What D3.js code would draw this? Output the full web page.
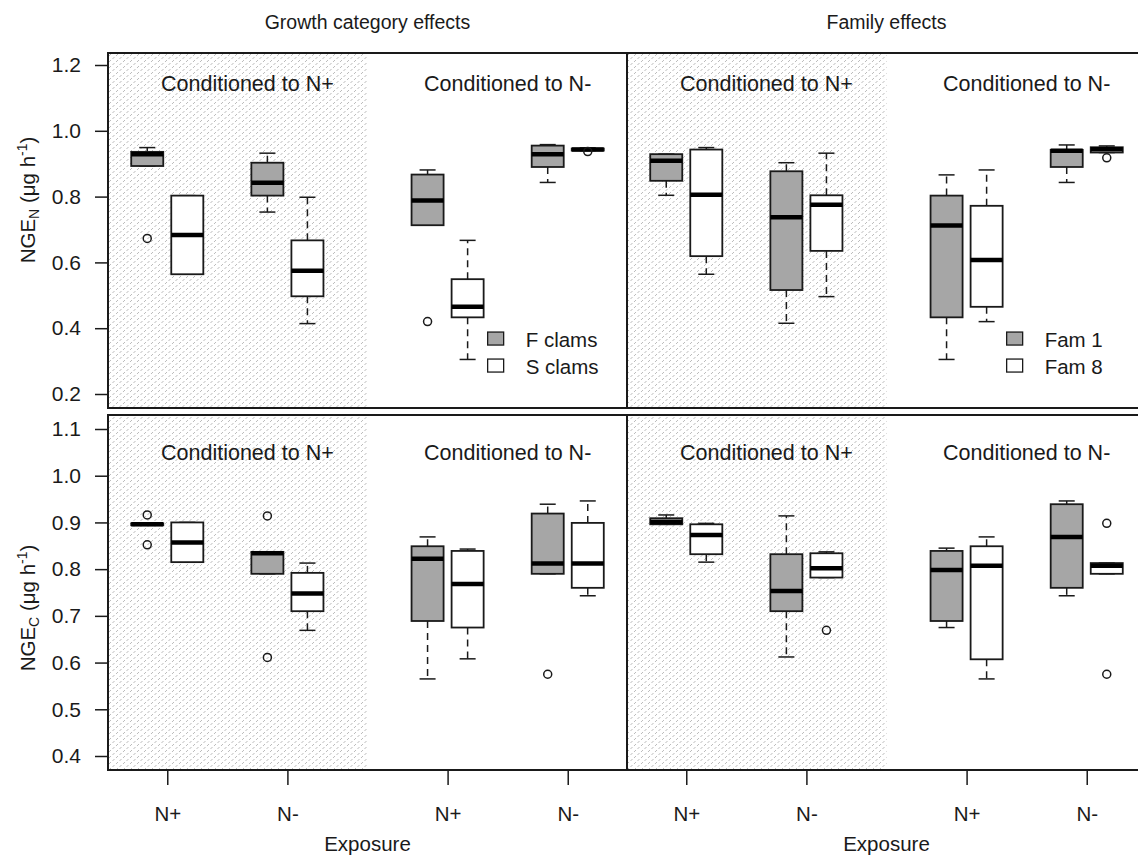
<!DOCTYPE html>
<html>
<head>
<meta charset="utf-8">
<script src="https://cdn.jsdelivr.net/npm/d3@7"></script>
<style>
  body { margin: 0; background: #fff; }
  text { font-family: "Liberation Sans", Arial, sans-serif; fill: #1a1a1a; }
</style>
</head>
<body>
<div id="canvas"></div>
<script>
// box positions (two boxes per exposure group) and x tick positions
var positions = [1, 2, 4, 5, 8, 9, 11, 12];
var exposureTicks = [1.5, 4.5, 8.5, 11.5];
var exposureLabels = ["N+", "N-", "N+", "N-"];
var fills = ["#a6a6a6", "#ffffff"];

var topTicks = [0.2, 0.4, 0.6, 0.8, 1.0, 1.2];
var bottomTicks = [0.4, 0.5, 0.6, 0.7, 0.8, 0.9, 1.0, 1.1];

var growthLegend = ["F clams", "S clams"];
var familyLegend = ["Fam 1", "Fam 8"];

// [lower whisker, q1, median, q3, upper whisker] for each box
var growthN = [
  [0.893, 0.893, 0.929, 0.936, 0.949],
  [0.564, 0.564, 0.683, 0.803, 0.803],
  [0.753, 0.803, 0.842, 0.903, 0.932],
  [0.414, 0.497, 0.575, 0.667, 0.798],
  [0.713, 0.713, 0.788, 0.867, 0.881],
  [0.305, 0.433, 0.465, 0.549, 0.667],
  [0.843, 0.890, 0.929, 0.955, 0.958],
  [0.940, 0.940, 0.943, 0.946, 0.948]
];
var growthNOut = [[1, 0.673], [8, 0.420], [12, 0.937]];

var familyN = [
  [0.804, 0.848, 0.909, 0.929, 0.929],
  [0.564, 0.619, 0.806, 0.943, 0.949],
  [0.415, 0.516, 0.737, 0.877, 0.903],
  [0.496, 0.635, 0.775, 0.804, 0.932],
  [0.305, 0.433, 0.712, 0.803, 0.866],
  [0.420, 0.465, 0.607, 0.772, 0.881],
  [0.843, 0.890, 0.939, 0.942, 0.957],
  [0.934, 0.934, 0.944, 0.950, 0.954]
];
var familyNOut = [[12, 0.918]];

var growthC = [
  [0.896, 0.894, 0.896, 0.898, 0.898],
  [0.815, 0.815, 0.857, 0.900, 0.900],
  [0.790, 0.790, 0.834, 0.837, 0.837],
  [0.669, 0.710, 0.748, 0.792, 0.813],
  [0.565, 0.689, 0.822, 0.849, 0.869],
  [0.608, 0.675, 0.768, 0.839, 0.843],
  [0.790, 0.790, 0.812, 0.919, 0.939],
  [0.743, 0.760, 0.812, 0.899, 0.946]
];
var growthCOut = [[1, 0.916], [1, 0.852], [4, 0.914], [4, 0.611], [11, 0.575]];

var familyC = [
  [0.896, 0.896, 0.901, 0.909, 0.916],
  [0.815, 0.832, 0.873, 0.896, 0.898],
  [0.612, 0.710, 0.753, 0.832, 0.914],
  [0.782, 0.782, 0.802, 0.834, 0.837],
  [0.675, 0.689, 0.798, 0.839, 0.845],
  [0.565, 0.607, 0.807, 0.849, 0.869],
  [0.743, 0.760, 0.869, 0.939, 0.946],
  [0.790, 0.790, 0.807, 0.813, 0.813]
];
var familyCOut = [[5, 0.669], [12, 0.898], [12, 0.575]];

var W = 1138, H = 858;
var panelW = 519;
var cols = [108, 627];
var rows = [{y0: 53, y1: 408}, {y0: 415, y1: 770}];

var svg = d3.select("#canvas").append("svg")
  .attr("width", W)
  .attr("height", H);

var defs = svg.append("defs");
var pat = defs.append("pattern")
  .attr("id", "hatch")
  .attr("patternUnits", "userSpaceOnUse")
  .attr("width", 7)
  .attr("height", 6);
pat.append("rect").attr("width", 7).attr("height", 6).attr("fill", "#fff");
pat.append("path")
  .attr("d", "M0.6,4.9 L2.4,3.1 M4.1,1.9 L5.9,0.1")
  .attr("stroke", "#b4b4b4")
  .attr("stroke-width", 1);

var yTop = d3.scaleLinear().domain([0.2, 1.2]).range([394, 65]);
var yBottom = d3.scaleLinear().domain([0.4, 1.1]).range([756, 429]);

function drawPanel(col, row, y, stats, outliers, opts) {
  var x0 = cols[col], r = rows[row];
  var x = d3.scaleLinear().domain([0.02, 12.98]).range([x0, x0 + panelW]);
  var g = svg.append("g");
  var bw = x(0.8) - x(0);

  // shaded "conditioned to N+" half
  g.append("rect")
    .attr("x", x0)
    .attr("y", r.y0)
    .attr("width", x(6.5) - x0)
    .attr("height", r.y1 - r.y0)
    .attr("fill", "url(#hatch)");

  g.append("text")
    .attr("x", x(3.5))
    .attr("y", y(opts.labelY))
    .attr("text-anchor", "middle")
    .attr("font-size", "21.5px")
    .text("Conditioned to N+");
  g.append("text")
    .attr("x", x(10))
    .attr("y", y(opts.labelY))
    .attr("text-anchor", "middle")
    .attr("font-size", "21.5px")
    .text("Conditioned to N-");

  var boxes = g.selectAll("g.box")
    .data(stats).enter()
    .append("g");

  boxes.each(function (d, i) {
    var b = d3.select(this);
    var cx = x(positions[i]);
    // whiskers
    b.append("line")
      .attr("x1", cx).attr("x2", cx)
      .attr("y1", y(d[3])).attr("y2", y(d[4]))
      .attr("stroke", "#1a1a1a").attr("stroke-width", 1.5)
      .attr("stroke-dasharray", "7,5");
    b.append("line")
      .attr("x1", cx).attr("x2", cx)
      .attr("y1", y(d[1])).attr("y2", y(d[0]))
      .attr("stroke", "#1a1a1a").attr("stroke-width", 1.5)
      .attr("stroke-dasharray", "7,5");
    // staples
    [d[0], d[4]].forEach(function (v) {
      b.append("line")
        .attr("x1", cx - bw / 4).attr("x2", cx + bw / 4)
        .attr("y1", y(v)).attr("y2", y(v))
        .attr("stroke", "#1a1a1a").attr("stroke-width", 1.5);
    });
    b.append("rect")
      .attr("x", cx - bw / 2)
      .attr("y", y(d[3]))
      .attr("width", bw)
      .attr("height", Math.max(0.5, y(d[1]) - y(d[3])))
      .attr("fill", fills[i % 2])
      .attr("stroke", "#1a1a1a")
      .attr("stroke-width", 1.8);
    b.append("line")
      .attr("x1", cx - bw / 2).attr("x2", cx + bw / 2)
      .attr("y1", y(d[2])).attr("y2", y(d[2]))
      .attr("stroke", "#000").attr("stroke-width", 4.5);
  });

  g.selectAll("circle.out")
    .data(outliers).enter()
    .append("circle")
    .attr("cx", function (d) { return x(d[0]); })
    .attr("cy", function (d) { return y(d[1]); })
    .attr("r", 4)
    .attr("fill", "none")
    .attr("stroke", "#1a1a1a")
    .attr("stroke-width", 1.5);

  // legend
  if (opts.legend) {
    opts.legend.forEach(function (lab, i) {
      var ly = y(0.367) + i * 27;
      g.append("rect")
        .attr("x", x(9.7) - 8)
        .attr("y", ly - 7)
        .attr("width", 16)
        .attr("height", 13)
        .attr("fill", fills[i])
        .attr("stroke", "#1a1a1a")
        .attr("stroke-width", 1.3);
      g.append("text")
        .attr("x", x(10.45))
        .attr("y", ly + 8)
        .attr("font-size", "20.5px")
        .text(lab);
    });
  }

  // y axis on left column only
  if (col === 0) {
    var ticks = row === 0 ? topTicks : bottomTicks;
    var ax = g.append("g")
      .attr("transform", "translate(" + (x0 - 1) + ",0)")
      .call(d3.axisLeft(y).tickValues(ticks).tickSize(12).tickPadding(14)
        .tickFormat(d3.format(".1f")));
    ax.select(".domain").remove();
    ax.selectAll("line").attr("stroke", "#1a1a1a").attr("stroke-width", 1.5);
    ax.selectAll("text").attr("font-size", "21px")
      .style("font-family", "'Liberation Sans', Arial, sans-serif").attr("fill", "#1a1a1a");
  }

  // x axis on bottom row only
  if (row === 1) {
    var bx = g.append("g")
      .attr("transform", "translate(0," + (r.y1 + 1) + ")")
      .call(d3.axisBottom(x).tickValues(exposureTicks).tickSize(14).tickPadding(21)
        .tickFormat(function (d, i) { return exposureLabels[i]; }));
    bx.select(".domain").remove();
    bx.selectAll("line").attr("stroke", "#1a1a1a").attr("stroke-width", 1.5);
    bx.selectAll("text").attr("font-size", "20.5px")
      .style("font-family", "'Liberation Sans', Arial, sans-serif").attr("fill", "#1a1a1a");
    g.append("text")
      .attr("x", x0 + panelW / 2)
      .attr("y", 851)
      .attr("text-anchor", "middle")
      .attr("font-size", "20.5px")
      .text("Exposure");
  }

  // panel frame
  g.append("rect")
    .attr("x", x0)
    .attr("y", r.y0)
    .attr("width", panelW)
    .attr("height", r.y1 - r.y0)
    .attr("fill", "none")
    .attr("stroke", "#1a1a1a")
    .attr("stroke-width", 2);
}

drawPanel(0, 0, yTop, growthN, growthNOut, {labelY: 1.12, legend: growthLegend});
drawPanel(1, 0, yTop, familyN, familyNOut, {labelY: 1.12, legend: familyLegend});
drawPanel(0, 1, yBottom, growthC, growthCOut, {labelY: 1.034});
drawPanel(1, 1, yBottom, familyC, familyCOut, {labelY: 1.034});

// column titles
svg.append("text")
  .attr("x", cols[0] + panelW / 2).attr("y", 29)
  .attr("text-anchor", "middle").attr("font-size", "19.5px")
  .text("Growth category effects");
svg.append("text")
  .attr("x", cols[1] + panelW / 2).attr("y", 29)
  .attr("text-anchor", "middle").attr("font-size", "19.5px")
  .text("Family effects");

// y axis titles with sub/superscripts
function yTitle(cy, sub) {
  var t = svg.append("text")
    .attr("transform", "translate(35," + cy + ") rotate(-90)")
    .attr("text-anchor", "middle")
    .attr("font-size", "20.5px");
  t.append("tspan").text("NGE");
  t.append("tspan").attr("font-size", "14px").attr("dy", 4).text(sub);
  t.append("tspan").attr("dy", -4).text(" (\u03bcg h");
  t.append("tspan").attr("font-size", "14px").attr("dy", -8).text("-1");
  t.append("tspan").attr("dy", 8).text(")");
}
yTitle(200, "N");
yTitle(608, "C");
</script>
</body>
</html>
